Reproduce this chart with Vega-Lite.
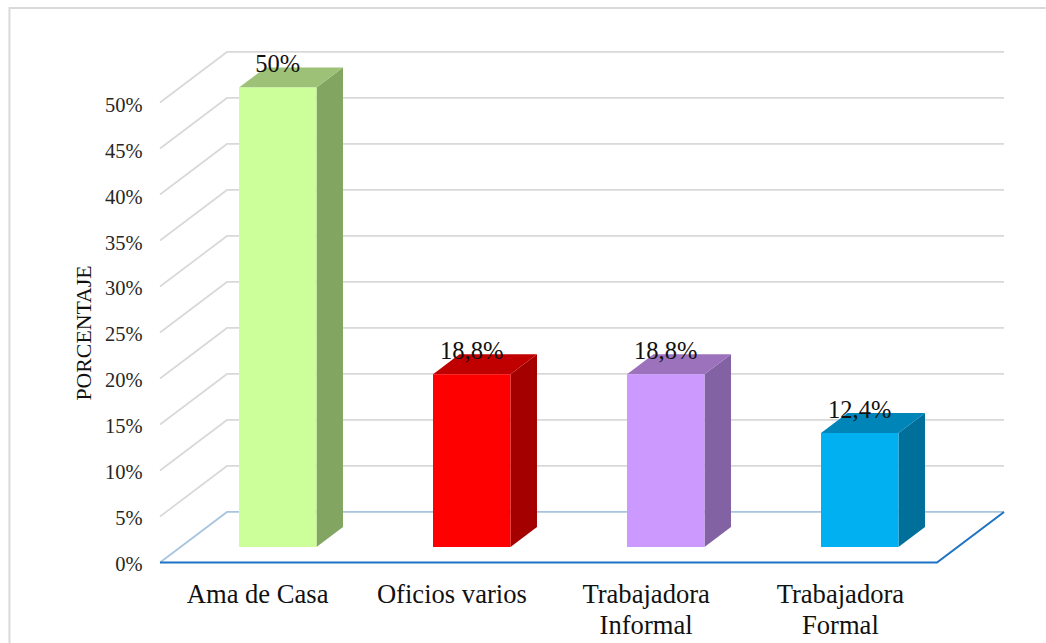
{
"$schema":"https://vega.github.io/schema/vega-lite/v6.json",
"width":1046,"height":643,"padding":0,"autosize":{"type":"none"},"background":"white",
"config":{"view":{"stroke":null},"font":"Liberation Serif"},
"datasets":{
"barras":[
{"categoria":"Ama de Casa","pos":0.5,"valor":50,"etiqueta":"50%"},
{"categoria":"Oficios varios","pos":1.5,"valor":18.8,"etiqueta":"18,8%"},
{"categoria":"Trabajadora Informal","pos":2.5,"valor":18.8,"etiqueta":"18,8%"},
{"categoria":"Trabajadora Formal","pos":3.5,"valor":12.4,"etiqueta":"12,4%"}],
"lateral":[
{"categoria":"Ama de Casa","x":0.6997,"y0":0,"y1":50},{"categoria":"Ama de Casa","x":0.8363,"y0":2.18,"y1":52.18},
{"categoria":"Oficios varios","x":1.6997,"y0":0,"y1":18.8},{"categoria":"Oficios varios","x":1.8363,"y0":2.18,"y1":20.98},
{"categoria":"Trabajadora Informal","x":2.6997,"y0":0,"y1":18.8},{"categoria":"Trabajadora Informal","x":2.8363,"y0":2.18,"y1":20.98},
{"categoria":"Trabajadora Formal","x":3.6997,"y0":0,"y1":12.4},{"categoria":"Trabajadora Formal","x":3.8363,"y0":2.18,"y1":14.58}],
"tapa":[
{"categoria":"Ama de Casa","y":50,"x0":0.3003,"x1":0.6997},{"categoria":"Ama de Casa","y":52.18,"x0":0.4369,"x1":0.8363},
{"categoria":"Oficios varios","y":18.8,"x0":1.3003,"x1":1.6997},{"categoria":"Oficios varios","y":20.98,"x0":1.4369,"x1":1.8363},
{"categoria":"Trabajadora Informal","y":18.8,"x0":2.3003,"x1":2.6997},{"categoria":"Trabajadora Informal","y":20.98,"x0":2.4369,"x1":2.8363},
{"categoria":"Trabajadora Formal","y":12.4,"x0":3.3003,"x1":3.6997},{"categoria":"Trabajadora Formal","y":14.58,"x0":3.4369,"x1":3.8363}],
"rejilla":[
{"t":5,"o":1,"x":0,"y":5},{"t":5,"o":2,"x":0.345,"y":10.49},{"t":5,"o":3,"x":4.345,"y":10.49},
{"t":10,"o":1,"x":0,"y":10},{"t":10,"o":2,"x":0.345,"y":15.49},{"t":10,"o":3,"x":4.345,"y":15.49},
{"t":15,"o":1,"x":0,"y":15},{"t":15,"o":2,"x":0.345,"y":20.49},{"t":15,"o":3,"x":4.345,"y":20.49},
{"t":20,"o":1,"x":0,"y":20},{"t":20,"o":2,"x":0.345,"y":25.49},{"t":20,"o":3,"x":4.345,"y":25.49},
{"t":25,"o":1,"x":0,"y":25},{"t":25,"o":2,"x":0.345,"y":30.49},{"t":25,"o":3,"x":4.345,"y":30.49},
{"t":30,"o":1,"x":0,"y":30},{"t":30,"o":2,"x":0.345,"y":35.49},{"t":30,"o":3,"x":4.345,"y":35.49},
{"t":35,"o":1,"x":0,"y":35},{"t":35,"o":2,"x":0.345,"y":40.49},{"t":35,"o":3,"x":4.345,"y":40.49},
{"t":40,"o":1,"x":0,"y":40},{"t":40,"o":2,"x":0.345,"y":45.49},{"t":40,"o":3,"x":4.345,"y":45.49},
{"t":45,"o":1,"x":0,"y":45},{"t":45,"o":2,"x":0.345,"y":50.49},{"t":45,"o":3,"x":4.345,"y":50.49},
{"t":50,"o":1,"x":0,"y":50},{"t":50,"o":2,"x":0.345,"y":55.49},{"t":50,"o":3,"x":4.345,"y":55.49}],
"marco":[{"o":1,"x":-0.775,"y":-8.75},{"o":2,"x":-0.775,"y":60.27},{"o":3,"x":4.56,"y":60.27}],
"pisoClaro":[{"o":1,"x":0,"y":0},{"o":2,"x":0.345,"y":5.49},{"o":3,"x":4.345,"y":5.49}],
"pisoOscuro":[{"o":1,"x":0,"y":0},{"o":2,"x":4,"y":0},{"o":3,"x":4.345,"y":5.49}],
"marcas":[{"v":0},{"v":5},{"v":10},{"v":15},{"v":20},{"v":25},{"v":30},{"v":35},{"v":40},{"v":45},{"v":50}]
},
"resolve":{"scale":{"x":"independent","y":"independent","color":"independent"},"axis":{"x":"independent","y":"independent"}},
"layer":[
{"data":{"name":"marco"},"mark":{"type":"line","stroke":"#d9d9d9","strokeWidth":2,"clip":false},
 "encoding":{"x":{"field":"x","type":"quantitative","axis":null,"scale":{"domain":[0,4],"range":[160,937],"nice":false,"zero":false}},
 "y":{"field":"y","type":"quantitative","axis":null,"scale":{"domain":[0,50],"range":[562.5,102.5],"nice":false,"zero":false}},"order":{"field":"o"}}},
{"data":{"name":"rejilla"},"mark":{"type":"line","stroke":"#d9d9d9","strokeWidth":1.75},
 "encoding":{"x":{"field":"x","type":"quantitative","axis":null,"scale":{"domain":[0,4],"range":[160,937],"nice":false,"zero":false}},
 "y":{"field":"y","type":"quantitative","axis":null,"scale":{"domain":[0,50],"range":[562.5,102.5],"nice":false,"zero":false}},
 "detail":{"field":"t"},"order":{"field":"o"}}},
{"data":{"name":"pisoClaro"},"mark":{"type":"line","stroke":"#a9c4de","strokeWidth":1.75},
 "encoding":{"x":{"field":"x","type":"quantitative","axis":null,"scale":{"domain":[0,4],"range":[160,937],"nice":false,"zero":false}},
 "y":{"field":"y","type":"quantitative","axis":null,"scale":{"domain":[0,50],"range":[562.5,102.5],"nice":false,"zero":false}},"order":{"field":"o"}}},
{"data":{"name":"pisoOscuro"},"mark":{"type":"line","stroke":"#1c72c4","strokeWidth":2},
 "encoding":{"x":{"field":"x","type":"quantitative","axis":null,"scale":{"domain":[0,4],"range":[160,937],"nice":false,"zero":false}},
 "y":{"field":"y","type":"quantitative","axis":null,"scale":{"domain":[0,50],"range":[562.5,102.5],"nice":false,"zero":false}},"order":{"field":"o"}}},
{"data":{"name":"marcas"},"mark":{"type":"rule","opacity":0},
 "encoding":{"y":{"field":"v","type":"quantitative","scale":{"domain":[0,50],"range":[564,105.5],"nice":false,"zero":false},
  "axis":{"orient":"left","offset":-146,"values":[0,5,10,15,20,25,30,35,40,45,50],"labelExpr":"datum.value+'%'","domain":false,"ticks":false,"grid":false,"labelPadding":4,"labelFontSize":20.5,"labelFont":"Liberation Serif","labelColor":"#262626","title":"PORCENTAJE","titleFont":"Liberation Serif","titleFontSize":21.8,"titleFontWeight":"normal","titleColor":"#111111","titlePadding":9,"titleY":332.5}},
  "x":{"field":"v","type":"quantitative","scale":{"domain":[0,4],"range":[160,937],"nice":false,"zero":false},
  "axis":{"orient":"bottom","offset":-66,"values":[0.5,1.5,2.5,3.5],"labelExpr":"datum.value==0.5?'Ama de Casa':datum.value==1.5?'Oficios varios':datum.value==2.5?['Trabajadora','Informal']:['Trabajadora','Formal']","domain":false,"ticks":false,"grid":false,"labelPadding":4,"labelFontSize":26.6,"labelFont":"Liberation Serif","labelColor":"#111111","labelLineHeight":31,"labelOverlap":false,"title":null}}}},
{"data":{"name":"lateral"},"mark":{"type":"area","line":false},
 "encoding":{"x":{"field":"x","type":"quantitative","axis":null,"scale":{"domain":[0,4],"range":[180.75,956.75],"nice":false,"zero":false}},
 "y":{"field":"y1","type":"quantitative","axis":null,"scale":{"domain":[0,50],"range":[547,87.5],"nice":false,"zero":false}},"y2":{"field":"y0"},
 "color":{"field":"categoria","type":"nominal","legend":null,"scale":{"domain":["Ama de Casa","Oficios varios","Trabajadora Informal","Trabajadora Formal"],"range":["#82a561","#a50000","#8262a3","#006f9a"]}}}},
{"data":{"name":"tapa"},"mark":{"type":"area","orient":"horizontal"},
 "encoding":{"y":{"field":"y","type":"quantitative","axis":null,"scale":{"domain":[0,50],"range":[547,87.5],"nice":false,"zero":false}},
 "x":{"field":"x0","type":"quantitative","axis":null,"scale":{"domain":[0,4],"range":[180.75,956.75],"nice":false,"zero":false}},"x2":{"field":"x1"},
 "color":{"field":"categoria","type":"nominal","legend":null,"scale":{"domain":["Ama de Casa","Oficios varios","Trabajadora Informal","Trabajadora Formal"],"range":["#9cc177","#c00000","#9c72bd","#0085b8"]}}}},
{"data":{"name":"barras"},"mark":{"type":"bar","width":77.5},
 "encoding":{"x":{"field":"pos","type":"quantitative","axis":null,"scale":{"domain":[0,4],"range":[180.75,956.75],"nice":false,"zero":false,"padding":0}},
 "y":{"field":"valor","type":"quantitative","axis":null,"scale":{"domain":[0,50],"range":[547,87.5],"nice":false,"zero":true}},
 "color":{"field":"categoria","type":"nominal","legend":null,"scale":{"domain":["Ama de Casa","Oficios varios","Trabajadora Informal","Trabajadora Formal"],"range":["#ccff99","#ff0000","#cc99ff","#00b0f0"]}}}},
{"data":{"name":"barras"},"mark":{"type":"text","baseline":"alphabetic","align":"center","dy":-15.5,"fontSize":24.5,"font":"Liberation Serif","color":"#111111"},
 "encoding":{"x":{"field":"pos","type":"quantitative","axis":null,"scale":{"domain":[0,4],"range":[180.75,956.75],"nice":false,"zero":false}},
 "y":{"field":"valor","type":"quantitative","axis":null,"scale":{"domain":[0,50],"range":[547,87.5],"nice":false,"zero":false}},
 "text":{"field":"etiqueta"}}}
]
}
